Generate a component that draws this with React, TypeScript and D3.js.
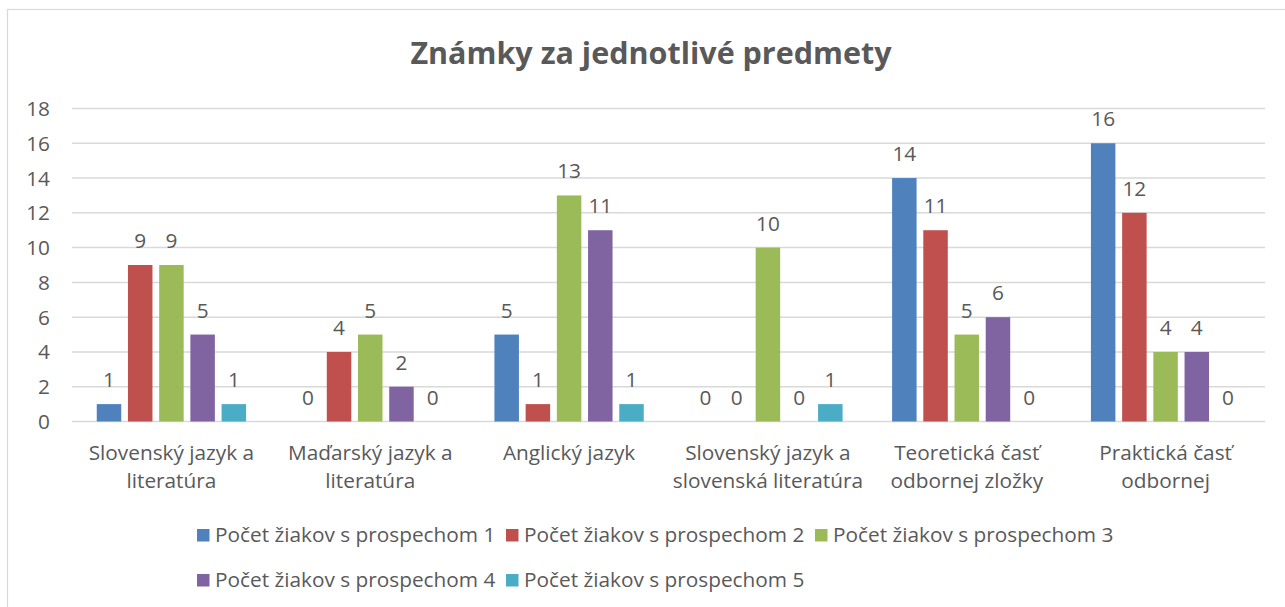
import React from "react";
import * as d3 from "d3";

const categories: string[][] = [
  ["Slovenský jazyk a", "literatúra"],
  ["Maďarský jazyk a", "literatúra"],
  ["Anglický jazyk"],
  ["Slovenský jazyk a", "slovenská literatúra"],
  ["Teoretická časť", "odbornej zložky"],
  ["Praktická časť", "odbornej"],
];

const seriesNames = [
  "Počet žiakov s prospechom 1",
  "Počet žiakov s prospechom 2",
  "Počet žiakov s prospechom 3",
  "Počet žiakov s prospechom 4",
  "Počet žiakov s prospechom 5",
];

const grade1 = [1, 0, 5, 0, 14, 16];
const grade2 = [9, 4, 1, 0, 11, 12];
const grade3 = [9, 5, 13, 10, 5, 4];
const grade4 = [5, 2, 11, 0, 6, 4];
const grade5 = [1, 0, 1, 1, 0, 0];
const seriesValues = [grade1, grade2, grade3, grade4, grade5];

const colors = ["#4F81BD", "#C0504D", "#9BBB59", "#8064A2", "#4BACC6"];
const yTicks = [0, 2, 4, 6, 8, 10, 12, 14, 16, 18];
const title = "Známky za jednotlivé predmety";

const W = 1285;
const H = 607;
const FONT = "'Open Sans', sans-serif";
const TXT = "#595959";
const FS = 20.8;

export default function App() {
  const left = 72;
  const right = 1265;
  const top = 108.5;
  const bottom = 421.5;

  const catIdx = categories.map((_, i) => String(i));
  const x = d3.scaleBand<string>().domain(catIdx).range([left, right]).padding(0);
  const y = d3.scaleLinear().domain([0, 18]).range([bottom, top]);
  const groupW = x.bandwidth() * 0.751;
  const inner = d3
    .scaleBand<string>()
    .domain(seriesNames)
    .range([-groupW / 2, groupW / 2])
    .paddingInner(0.215)
    .paddingOuter(0);

  const legendPos = [
    [197, 535],
    [506, 535],
    [815, 535],
    [197, 580],
    [506, 580],
  ];

  return (
    <svg
      width={W}
      height={H}
      style={{ position: "absolute", left: 0, top: 0, background: "#fff" }}
      fontFamily={FONT}
    >
      <rect x={7.5} y={9.5} width={1300} height={640} fill="#fff" stroke="#D9D9D9" strokeWidth={1.2} />
      <text x={651} y={64} textAnchor="middle" fontSize={30.5} fontWeight={700} fill={TXT}>
        {title}
      </text>
      {yTicks.map((t) => (
        <g key={t}>
          <line x1={left} x2={right} y1={y(t)} y2={y(t)} stroke="#D9D9D9" strokeWidth={1.5} />
          <text x={50} y={y(t)} dy="0.36em" textAnchor="end" fontSize={FS} fill={TXT}>
            {t}
          </text>
        </g>
      ))}
      {categories.map((c, ci) => {
        const cx = (x(String(ci)) as number) + x.bandwidth() / 2;
        return (
          <g key={ci}>
            {seriesValues.map((vals, si) => {
              const v = vals[ci];
              const bx = cx + (inner(seriesNames[si]) as number);
              return (
                <g key={si}>
                  {v > 0 && (
                    <rect
                      x={bx}
                      y={y(v)}
                      width={inner.bandwidth()}
                      height={y(0) - y(v)}
                      fill={colors[si]}
                    />
                  )}
                  <text
                    x={bx + inner.bandwidth() / 2}
                    y={y(v) - 17}
                    textAnchor="middle"
                    fontSize={FS}
                    fill={TXT}
                  >
                    {v}
                  </text>
                </g>
              );
            })}
            {c.map((line, li) => (
              <text key={li} x={cx} y={460 + li * 28} textAnchor="middle" fontSize={FS} fill={TXT}>
                {line}
              </text>
            ))}
          </g>
        );
      })}
      {seriesNames.map((s, si) => (
        <g key={s}>
          <rect x={legendPos[si][0]} y={legendPos[si][1] - 6} width={12.5} height={12.5} fill={colors[si]} />
          <text x={legendPos[si][0] + 18} y={legendPos[si][1] + 7} fontSize={FS} fill={TXT}>
            {s}
          </text>
        </g>
      ))}
    </svg>
  );
}
